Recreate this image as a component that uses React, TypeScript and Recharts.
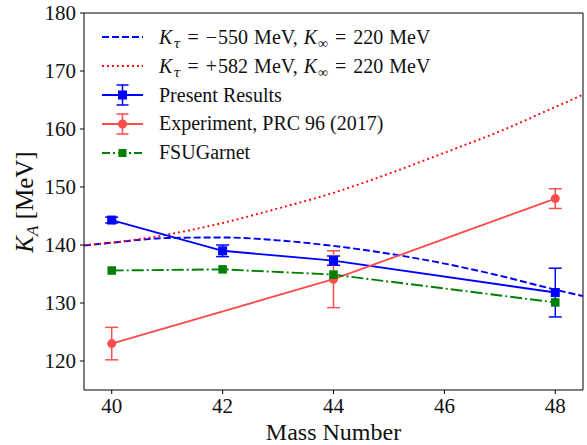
import React from "react";
import {
  ComposedChart,
  Line,
  XAxis,
  YAxis,
  ErrorBar,
  ReferenceLine,
  Label,
} from "recharts";

// values
const MASS = [40, 42, 44, 48];
const PRESENT = [144.3, 139.0, 137.3, 131.8];
const PRESENT_ERR = [0.5, 1.0, 0.8, 4.2];
const FSUGARNET = [135.6, 135.8, 134.9, 130.1];

const EXP_MASS = [40, 44, 48];
const EXPERIMENT = [123.0, 134.1, 148.0];
const EXPERIMENT_ERR = [2.8, 4.9, 1.7];

const CURVE_MASS = [39.5, 40, 41, 42, 43, 44, 45, 46, 47, 48, 48.5];
const K_TAU_NEG = [139.9, 140.4, 141.2, 141.3, 140.8, 139.85, 138.5, 136.8, 134.7, 132.3, 131.2];
const K_TAU_POS = [140.0, 140.4, 141.8, 143.8, 146.3, 149.0, 152.3, 155.9, 159.6, 163.8, 165.9];

const X_TICKS = [40, 42, 44, 46, 48];
const Y_TICKS = [120, 130, 140, 150, 160, 170, 180];

const BLUE = "#0000ff";
const RED = "#ff0000";
const LIGHT_RED = "#ff4d4d";
const GREEN = "#008000";
const FONT = '"Liberation Serif", "DejaVu Serif", serif';

const DASHED = "7 3";
const DOTTED = "1.9 3.1";
const DASH_DOT = "12 3 2 3";

const presentData = MASS.map((x, i) => ({ x, y: PRESENT[i], err: PRESENT_ERR[i] }));
const fsuData = MASS.map((x, i) => ({ x, y: FSUGARNET[i] }));
const expData = EXP_MASS.map((x, i) => ({ x, y: EXPERIMENT[i], err: EXPERIMENT_ERR[i] }));
const negData = CURVE_MASS.map((x, i) => ({ x, y: K_TAU_NEG[i] }));
const posData = CURVE_MASS.map((x, i) => ({ x, y: K_TAU_POS[i] }));

const squareDot = (size: number, fill: string) => (props: any) => {
  const { cx, cy, index } = props;
  if (cx == null || cy == null) return <g key={index} />;
  return (
    <rect key={index} x={cx - size / 2} y={cy - size / 2} width={size} height={size} fill={fill} />
  );
};

const circleDot = (r: number, fill: string) => (props: any) => {
  const { cx, cy, index } = props;
  if (cx == null || cy == null) return <g key={index} />;
  return <circle key={index} cx={cx} cy={cy} r={r} fill={fill} />;
};

function YLabel() {
  return (
    <text
      x={33}
      y={202}
      transform="rotate(-90 33 202)"
      textAnchor="middle"
      fontFamily={FONT}
      fontSize={25}
      fill="#111"
    >
      <tspan fontStyle="italic">K</tspan>
      <tspan fontStyle="italic" fontSize={17} dy={5}>A</tspan>
      <tspan dy={-5}> [MeV]</tspan>
    </text>
  );
}

function Handle({ kind }: { kind: string }) {
  const w = 41;
  const m = 14;
  if (kind === "neg")
    return (
      <svg width={w} height={28}>
        <line x1={0} x2={w} y1={m} y2={m} stroke={BLUE} strokeWidth={1.9} strokeDasharray={DASHED} />
      </svg>
    );
  if (kind === "pos")
    return (
      <svg width={w} height={28}>
        <line x1={0} x2={w} y1={m} y2={m} stroke={RED} strokeWidth={1.9} strokeDasharray={DOTTED} />
      </svg>
    );
  if (kind === "fsu")
    return (
      <svg width={w} height={28}>
        <line x1={0} x2={w} y1={m} y2={m} stroke={GREEN} strokeWidth={1.9} strokeDasharray="8 3 2 3" />
        <rect x={w / 2 - 4} y={m - 4} width={8} height={8} fill={GREEN} />
      </svg>
    );
  const c = kind === "present" ? BLUE : LIGHT_RED;
  return (
    <svg width={w} height={28}>
      <line x1={0} x2={w} y1={m} y2={m} stroke={c} strokeWidth={1.9} />
      <line x1={w / 2} x2={w / 2} y1={m - 10} y2={m + 10} stroke={c} strokeWidth={1.5} />
      <line x1={w / 2 - 6} x2={w / 2 + 6} y1={m - 10} y2={m - 10} stroke={c} strokeWidth={1.5} />
      <line x1={w / 2 - 6} x2={w / 2 + 6} y1={m + 10} y2={m + 10} stroke={c} strokeWidth={1.5} />
      {kind === "present" ? (
        <rect x={w / 2 - 4.5} y={m - 4.5} width={9} height={9} fill={c} />
      ) : (
        <circle cx={w / 2} cy={m} r={4.5} fill={c} />
      )}
    </svg>
  );
}

const subStyle: React.CSSProperties = {
  fontSize: 14,
  fontStyle: "italic",
  verticalAlign: "-4px",
  lineHeight: 0,
  marginLeft: 1,
};
const eqStyle: React.CSSProperties = { margin: "0 7px" };

function MathRow({ value }: { value: string }) {
  return (
    <>
      <i>K</i>
      <span style={{ ...subStyle, fontFamily: '"DejaVu Serif", serif', fontSize: 13 }}>τ</span>
      <span style={eqStyle}>=</span>
      <span style={{ marginRight: 1 }}>{value.slice(0, 1)}</span>
      {value.slice(1)}
      <span style={{ marginLeft: 6 }}>MeV,</span>
      <i style={{ marginLeft: 6 }}>K</i>
      <span style={{ ...subStyle, fontStyle: "normal" }}>∞</span>
      <span style={eqStyle}>=</span>
      220<span style={{ marginLeft: 6 }}>MeV</span>
    </>
  );
}

const LEGEND_ROWS: { kind: string; text: React.ReactNode }[] = [
  { kind: "neg", text: <MathRow value="−550" /> },
  { kind: "pos", text: <MathRow value="+582" /> },
  { kind: "present", text: "Present Results" },
  { kind: "exp", text: "Experiment, PRC 96 (2017)" },
  { kind: "fsu", text: "FSUGarnet" },
];

export default function App() {
  return (
    <div style={{ position: "relative", width: 587, height: 445, background: "#fff" }}>
      <style>{`body{margin:0}`}</style>
      <ComposedChart width={587} height={445} margin={{ top: 13, right: 4, bottom: 0, left: 24 }}>
        <XAxis
          dataKey="x"
          type="number"
          domain={[39.5, 48.5]}
          ticks={X_TICKS}
          allowDataOverflow
          height={55}
          stroke="#000"
          tickSize={4}
          tickMargin={4}
          tick={{ fontSize: 21, fill: "#111", fontFamily: FONT }}
        >
          <Label
            value="Mass Number"
            position="insideBottom"
            offset={5}
            style={{ fontSize: 24, fill: "#111", fontFamily: FONT }}
          />
        </XAxis>
        <YAxis
          type="number"
          domain={[115, 180]}
          ticks={Y_TICKS}
          allowDataOverflow
          width={60}
          stroke="#000"
          tickSize={4}
          tickMargin={4}
          tick={{ fontSize: 21, fill: "#111", fontFamily: FONT }}
          label={<YLabel />}
        />
        <ReferenceLine y={180} stroke="#000" strokeWidth={1} />
        <ReferenceLine x={48.5} stroke="#000" strokeWidth={1} />

        <Line
          data={negData}
          dataKey="y"
          type="monotone"
          stroke={BLUE}
          strokeWidth={1.9}
          strokeDasharray={DASHED}
          dot={false}
          isAnimationActive={false}
        />
        <Line
          data={posData}
          dataKey="y"
          type="monotone"
          stroke={RED}
          strokeWidth={1.9}
          strokeDasharray={DOTTED}
          dot={false}
          isAnimationActive={false}
        />
        <Line
          data={presentData}
          dataKey="y"
          type="linear"
          stroke={BLUE}
          strokeWidth={1.9}
          dot={squareDot(9, BLUE)}
          activeDot={false}
          isAnimationActive={false}
        >
          <ErrorBar dataKey="err" direction="y" width={6.5} stroke={BLUE} strokeWidth={1.5} isAnimationActive={false} />
        </Line>
        <Line
          data={expData}
          dataKey="y"
          type="linear"
          stroke={LIGHT_RED}
          strokeWidth={1.9}
          dot={circleDot(4.5, LIGHT_RED)}
          activeDot={false}
          isAnimationActive={false}
        >
          <ErrorBar dataKey="err" direction="y" width={6.5} stroke={LIGHT_RED} strokeWidth={1.5} isAnimationActive={false} />
        </Line>
        <Line
          data={fsuData}
          dataKey="y"
          type="linear"
          stroke={GREEN}
          strokeWidth={1.9}
          strokeDasharray={DASH_DOT}
          dot={squareDot(8.5, GREEN)}
          activeDot={false}
          isAnimationActive={false}
        />
      </ComposedChart>

      <div
        style={{
          position: "absolute",
          left: 102,
          top: 23,
          fontFamily: FONT,
          fontSize: 20,
          color: "#111",
          lineHeight: "28.8px",
        }}
      >
        {LEGEND_ROWS.map((r, i) => (
          <div key={i} style={{ display: "flex", alignItems: "center", height: 28.8, whiteSpace: "nowrap" }}>
            <Handle kind={r.kind} />
            <span style={{ marginLeft: 16 }}>{r.text}</span>
          </div>
        ))}
      </div>
    </div>
  );
}
